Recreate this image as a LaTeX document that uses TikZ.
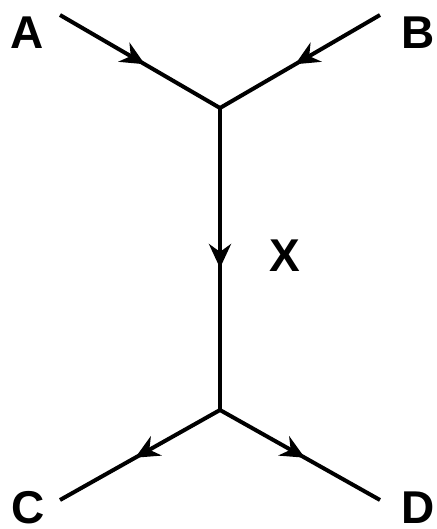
\documentclass[tikz,border=0pt]{standalone}
\usepackage{fontspec}
\setmainfont{Liberation Sans}
\usetikzlibrary{arrows.meta,decorations.markings}

\begin{document}
\begin{tikzpicture}[
    x=0.5pt, y=-0.5pt,
    fermion/.style={line width=2pt, postaction={decorate},
        decoration={markings, mark=at position 0.53 with {\arrow{Stealth[length=12pt,width=11pt]}}}},
    lbl/.style={font=\fontsize{23}{25}\selectfont\bfseries, inner sep=0pt}
]
\useasboundingbox (0,0) rectangle (436,529);

% external legs and vertices
\coordinate (a) at (60,15);
\coordinate (b) at (380,15);
\coordinate (top) at (220,108);
\coordinate (bot) at (220,410);
\coordinate (c) at (60,500);
\coordinate (d) at (380,500);

% labels
\node[lbl] (la) at (27,33) {A};
\node[lbl] (lb) at (418,33) {B};
\node[lbl] (lx) at (285,256) {X};
\node[lbl] (lc) at (28,508) {C};
\node[lbl] (ld) at (418,508) {D};

% propagators
\draw[fermion] (a) -- (top);
\draw[fermion] (b) -- (top);
\draw[fermion] (top) -- (bot);
\draw[fermion] (bot) -- (c);
\draw[fermion] (bot) -- (d);

\end{tikzpicture}
\end{document}
